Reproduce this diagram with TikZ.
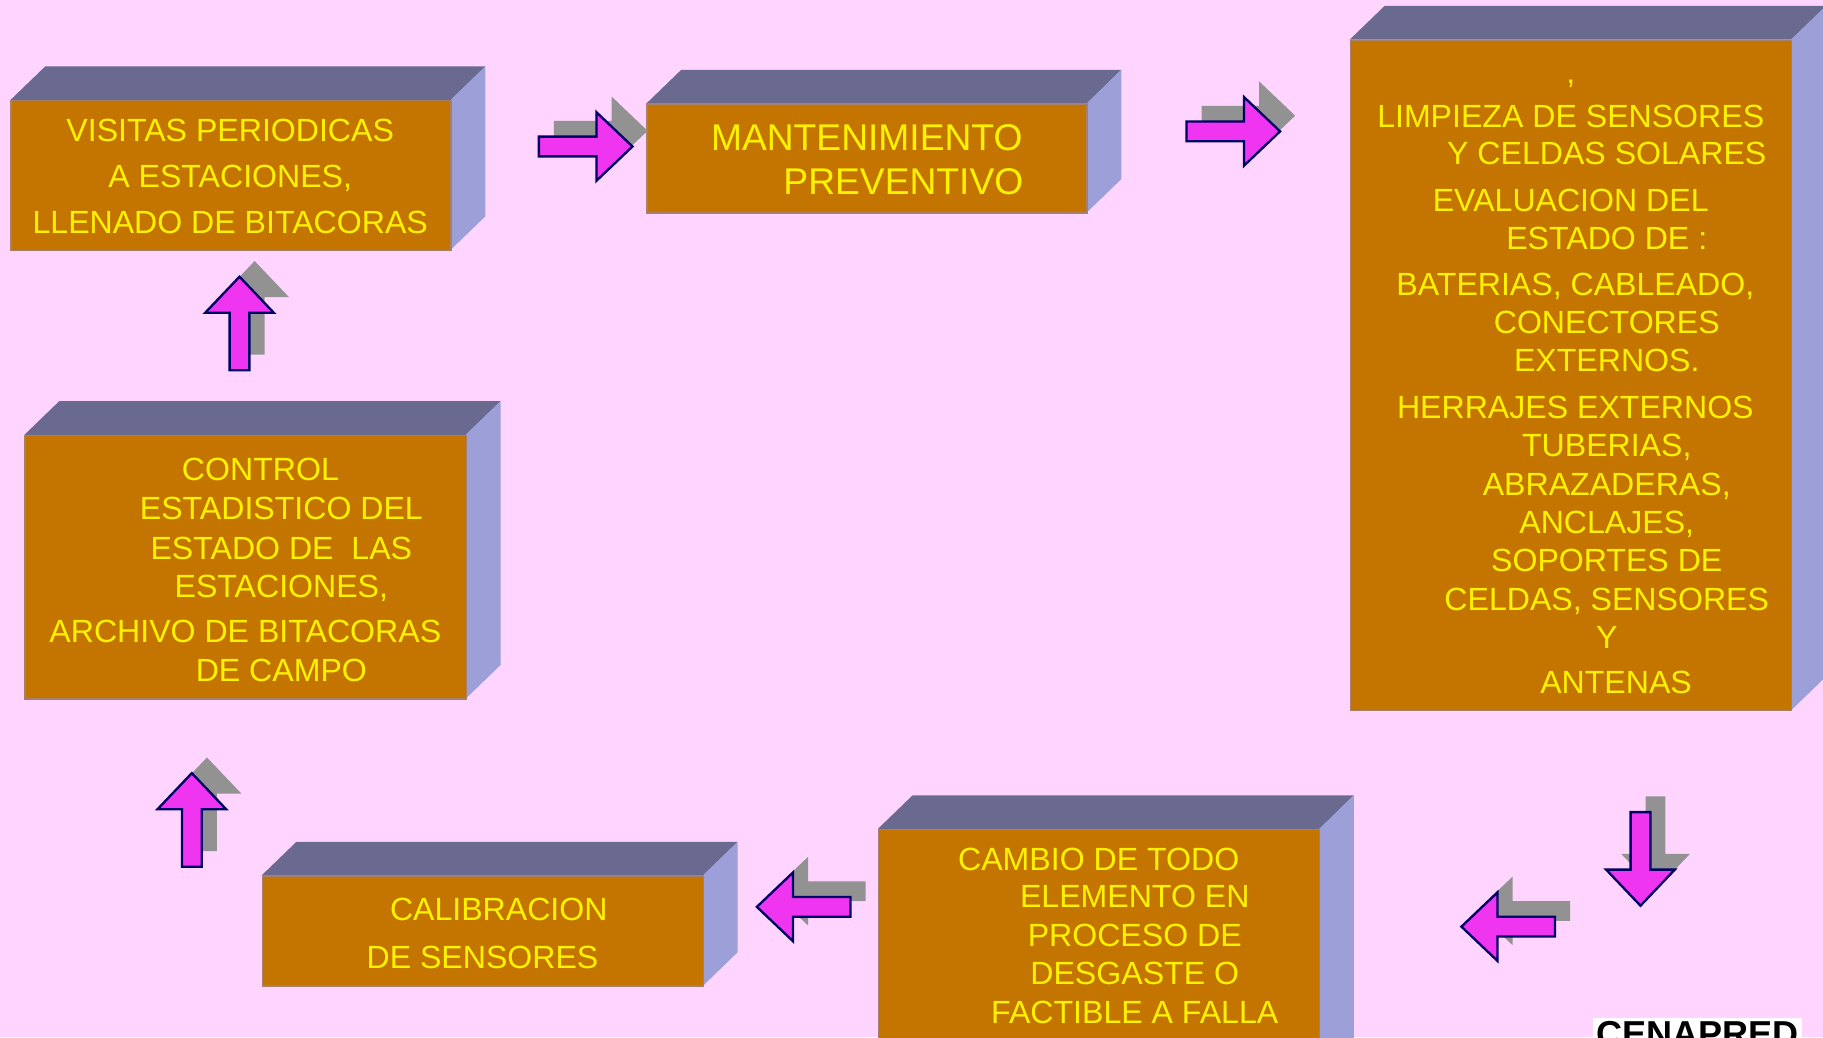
\documentclass[tikz,border=0pt]{standalone}
\usepackage{fontspec}
\setmainfont{Liberation Sans}
\definecolor{bgpink}{HTML}{FFD5FF}
\definecolor{frontc}{HTML}{C47500}
\definecolor{topc}{HTML}{6A6A90}
\definecolor{sidec}{HTML}{9C9FD8}
\definecolor{edgec}{HTML}{A8806A}
\definecolor{arrowc}{HTML}{F035F0}
\definecolor{arrowe}{HTML}{000066}
\definecolor{shadowc}{HTML}{929292}
\tikzset{
  x=1pt,y=-1pt,
  txt/.style={inner sep=0pt,text=yellow,font=\fontsize{27.6}{30}\selectfont,text height=19.8pt,text depth=0pt,anchor=center},
  bigtxt/.style={txt,font=\fontsize{32}{34}\selectfont,text height=22.9pt},
  front/.style={fill=frontc,draw=edgec,line width=1.1pt},
  topface/.style={fill=topc},
  sideface/.style={fill=sidec},
  pics/blockarrow/.style={code={
    \path[pic actions] (0,0)--(-31,-29.5)--(-31,-8.5)--(-80.5,-8.5)--(-80.5,8.5)--(-31,8.5)--(-31,29.5)--cycle;
  }},
  arrowfront/.style={fill=arrowc,draw=arrowe,line width=2pt,line join=miter},
  arrowback/.style={fill=shadowc}
}
\newcommand{\boxthreed}[5]{%
  \fill[topface] (#1,#2)--(#1+30,#2-29)--(#3+29.5,#2-29)--(#3,#2)--cycle;
  \fill[sideface] (#3-0.5,#2)--(#3+29.5,#2-29)--(#3+29.5,#4-29)--(#3-0.5,#4)--cycle;
  \node[front,rectangle,inner sep=0pt,minimum width=#3-#1-0.6,minimum height=#4-#2-0.4,anchor=north west] (#5) at (#1,#2) {};
}
\newcommand{\shadedarrow}[3]{%
  \pic[arrowback,rotate=#3] at (#1+13,#2-13.5) {blockarrow};
  \pic[arrowfront,rotate=#3] at (#1,#2) {blockarrow};
}
\begin{document}
\begin{tikzpicture}
\useasboundingbox (0,0) rectangle (1568,892);
\clip (0,0) rectangle (1568,892);
\fill[bgpink] (0,0) rectangle (1568,892);

\boxthreed{9}{86}{388}{215}{boxa}
\boxthreed{556}{89}{935}{183}{boxb}
\boxthreed{1161}{34}{1541}{611}{boxc}
\boxthreed{21}{374}{401}{601}{boxd}
\boxthreed{225}{753}{605}{848}{boxe}
\boxthreed{755}{713}{1135}{940}{boxf}

\node[txt] (a1) at (198,111.5) {VISITAS PERIODICAS};
\node[txt] (a2) at (198,151.5) {A ESTACIONES,};
\node[txt] (a3) at (198,191) {LLENADO DE BITACORAS};

\node[bigtxt] (b1) at (745.5,118) {MANTENIMIENTO};
\node[bigtxt] (b2) at (777,156) {PREVENTIVO};

\node[txt] (c0) at (1351,62) {,};
\node[txt] (c1) at (1351,100) {LIMPIEZA DE SENSORES};
\node[txt] (c2) at (1382,132) {Y CELDAS SOLARES};
\node[txt] (c3) at (1351,172) {EVALUACION DEL};
\node[txt] (c4) at (1382,205) {ESTADO DE :};
\node[txt] (c5) at (1355,244) {BATERIAS, CABLEADO,};
\node[txt] (c6) at (1382,277) {CONECTORES};
\node[txt] (c7) at (1382,310) {EXTERNOS.};
\node[txt] (c8) at (1355,350) {HERRAJES EXTERNOS};
\node[txt] (c9) at (1382,383) {TUBERIAS,};
\node[txt] (c10) at (1382,416) {ABRAZADERAS,};
\node[txt] (c11) at (1382,449) {ANCLAJES,};
\node[txt] (c12) at (1382,482) {SOPORTES DE};
\node[txt] (c13) at (1382,515) {CELDAS, SENSORES};
\node[txt] (c14) at (1382,548) {Y};
\node[txt] (c15) at (1390,587) {ANTENAS};

\node[txt] (d1) at (224,403) {CONTROL};
\node[txt] (d2) at (242,437) {ESTADISTICO DEL};
\node[txt] (d3) at (242,471) {ESTADO DE\ \ LAS};
\node[txt] (d4) at (242,504) {ESTACIONES,};
\node[txt] (d5) at (211,543) {ARCHIVO DE BITACORAS};
\node[txt] (d6) at (242,576) {DE CAMPO};

\node[txt] (e1) at (429,782) {CALIBRACION};
\node[txt] (e2) at (415,823) {DE SENSORES};

\node[txt] (f1) at (945,739) {CAMBIO DE TODO};
\node[txt] (f2) at (976,771) {ELEMENTO EN};
\node[txt] (f3) at (976,804) {PROCESO DE};
\node[txt] (f4) at (976,837) {DESGASTE O};
\node[txt] (f5) at (976,870) {FACTIBLE A FALLA};

\shadedarrow{544}{126}{0}
\shadedarrow{1101}{113}{0}
\shadedarrow{206}{238}{90}
\shadedarrow{165}{665}{90}
\shadedarrow{1411}{779}{-90}
\shadedarrow{1257}{797}{180}
\shadedarrow{651}{780}{180}

\fill[white] (1370,875.5) rectangle (1550,892);
\node[inner sep=0pt,anchor=north,text=black,font=\fontsize{31}{34}\bfseries\selectfont,text height=22.2pt,text depth=0pt] (logo) at (1460,877.5) {CENAPRED};
\end{tikzpicture}
\end{document}
